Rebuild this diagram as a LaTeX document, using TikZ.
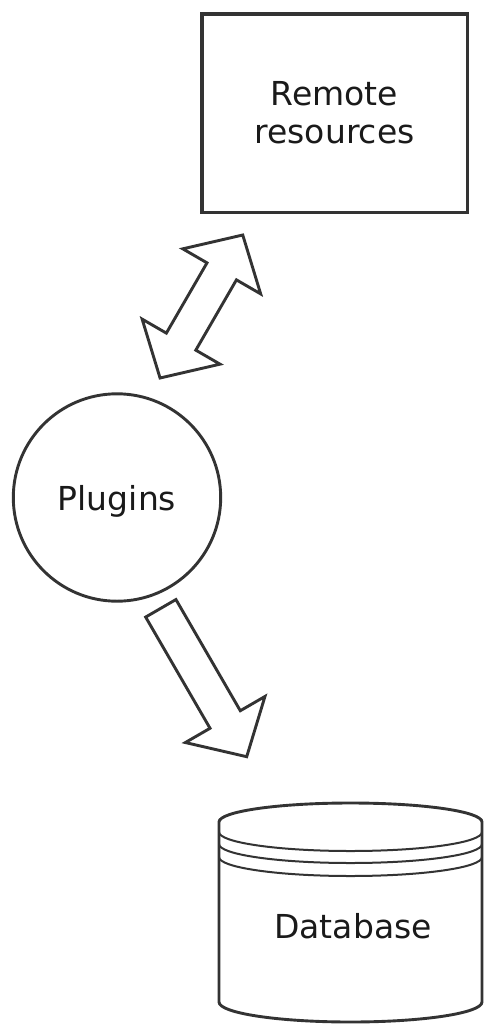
\documentclass[tikz,border=0pt]{standalone}
\usepackage{fontspec}
\setmainfont{DejaVu Sans}
\definecolor{ln}{HTML}{333333}
\definecolor{txt}{HTML}{1A1A1A}
\begin{document}
\begin{tikzpicture}[x=1pt,y=-1pt,line join=miter,
  outline/.style={draw=ln,line width=2.9pt,fill=white},
  thinline/.style={draw=ln,line width=2pt},
  lbl/.style={font=\fontsize{33}{38}\selectfont,text=txt}]
\useasboundingbox (0,0) rectangle (484,1026);
% Remote resources box
\node[outline,line width=3.6pt,rectangle,minimum width=265.6pt,minimum height=198.3pt,
      align=center,lbl] (remote) at (334.5,113.2) {Remote\\resources};
% Plugins circle
\node[outline,circle,minimum size=207.4pt,inner sep=0pt,lbl,text depth=0pt]
      (plugins) at (117,497.5) {Plugins};
% double block arrow
\draw[outline] (242.75,235.0) -- (260.67,293.89) -- (236.44,279.87) -- (195.8,350.15)
  -- (220.03,364.17) -- (160.05,378.0) -- (142.13,319.11) -- (166.36,333.13)
  -- (207.0,262.85) -- (182.77,248.83) -- cycle;
% single block arrow
\draw[outline] (175.94,599.53) -- (240.31,710.72) -- (264.97,696.45) -- (246.7,756.7)
  -- (185.37,742.53) -- (210.03,728.26) -- (145.66,617.07) -- cycle;
% database cylinder
\draw[outline] (219,822) -- (219,1002)
  arc[start angle=180,end angle=0,x radius=131.5,y radius=20] -- (482,822)
  arc[start angle=0,end angle=-180,x radius=131.5,y radius=19] -- cycle;
\draw[thinline] (219,832) arc[start angle=180,end angle=0,x radius=131.5,y radius=19];
\draw[thinline] (219,844) arc[start angle=180,end angle=0,x radius=131.5,y radius=19];
\draw[thinline] (219,857) arc[start angle=180,end angle=0,x radius=131.5,y radius=19];
\node[lbl,anchor=base] (db) at (353,938) {Database};
\end{tikzpicture}
\end{document}
